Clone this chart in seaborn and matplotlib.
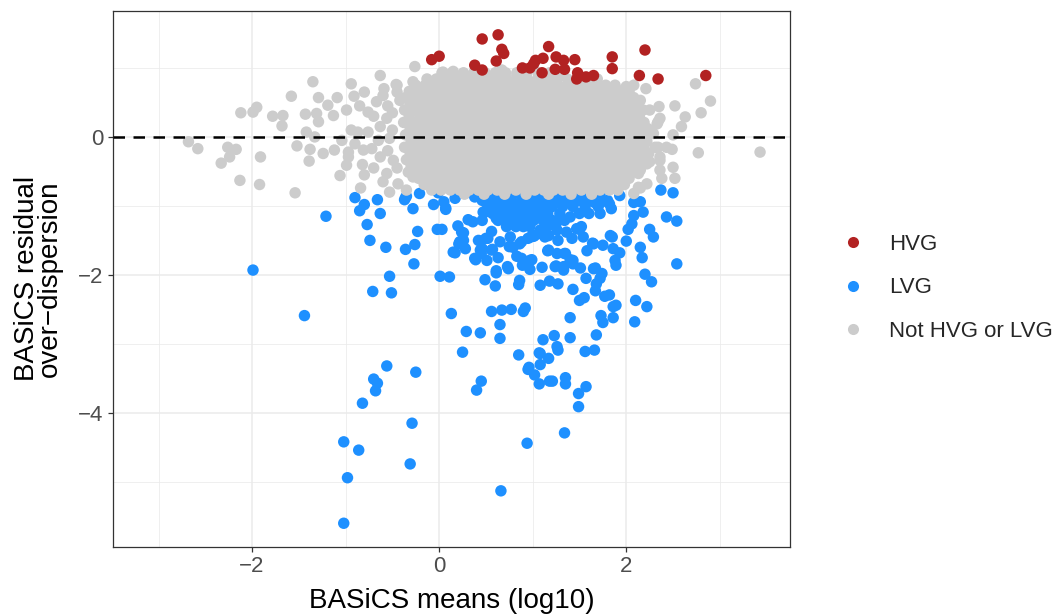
import matplotlib
matplotlib.use("Agg")
import matplotlib.pyplot as plt
from matplotlib.lines import Line2D
from matplotlib.ticker import MultipleLocator
import pandas as pd
import seaborn as sns

# ---------------------------------------------------------------- data
categories = ["HVG", "LVG", "Not HVG or LVG"]
colours = {"HVG": "#B22222", "LVG": "#1E90FF", "Not HVG or LVG": "#CCCCCC"}

# highly variable genes: (mean log10, residual over-dispersion)
hvg_points = [
    (-0.08, 1.12), (0.00, 1.17), (0.46, 1.42), (0.63, 1.48), (0.67, 1.27),
    (0.69, 1.21), (0.38, 1.04), (0.46, 0.97), (0.61, 1.10), (0.89, 1.00),
    (0.97, 1.00), (1.03, 1.11), (1.11, 1.14), (1.17, 1.31), (1.10, 0.93),
    (1.25, 1.16), (1.24, 0.98), (1.33, 1.11), (1.34, 0.98), (1.45, 1.12),
    (1.48, 0.93), (1.47, 0.84), (1.57, 0.87), (1.65, 0.89), (1.85, 1.16),
    (1.85, 0.99), (2.14, 0.89), (2.20, 1.26), (2.34, 0.84), (2.85, 0.89),
    (1.01, 1.06),
]

# lowly variable genes: individually placed points
lvg_points = [
    (-1.21, -1.15), (-0.90, -0.88), (-0.80, -0.98), (-0.85, -1.07), (-0.66, -0.91),
    (-0.63, -1.11), (-0.77, -1.27), (-0.74, -1.50), (-0.57, -1.60), (-0.36, -0.88),
    (-0.28, -1.04), (-0.23, -1.37), (-0.26, -1.56), (-0.36, -1.63), (-0.27, -1.84),
    (-0.53, -2.02), (-0.71, -2.24), (-0.51, -2.26), (-1.44, -2.59), (-1.99, -1.93),
    (-0.56, -3.32), (-0.25, -3.41), (-0.70, -3.51), (-0.66, -3.57), (-0.68, -3.68),
    (-0.82, -3.86), (-0.29, -4.15), (-1.02, -4.42), (-0.86, -4.54), (-0.31, -4.74),
    (-0.98, -4.94), (-1.02, -5.60), (-0.37, -0.91), (-0.35, -0.86), (-0.21, -0.82),
    (-0.06, -0.98), (-0.01, -0.81), (0.07, -1.03), (-0.02, -1.34), (0.03, -1.34),
    (0.17, -1.68), (0.20, -1.29), (0.26, -1.39), (0.22, -1.52), (0.28, -1.62),
    (0.01, -2.02), (0.11, -2.03), (0.13, -2.56), (0.29, -2.82), (0.44, -2.84),
    (0.25, -3.12), (0.05, -0.94), (0.07, -1.05), (0.17, -0.89), (0.29, -0.81),
    (0.38, -0.87), (0.54, -0.82),
    (0.39, -1.78), (0.45, -1.69), (0.44, -1.51), (0.52, -1.47), (0.46, -1.62),
    (0.57, -1.63), (0.63, -1.75), (0.65, -1.52), (0.76, -1.45), (0.75, -1.59),
    (0.83, -1.73), (0.73, -1.88), (0.49, -2.07), (0.60, -2.16), (0.61, -1.97),
    (0.85, -2.14), (0.56, -2.53), (0.67, -2.51), (0.77, -2.50), (0.90, -2.53),
    (0.92, -2.48), (0.65, -2.72), (0.65, -2.92), (0.85, -3.16), (0.89, -1.86),
    (0.97, -1.92), (0.99, -1.78), (0.98, -1.45), (1.10, -1.89), (1.08, -2.15),
    (1.18, -2.09), (1.27, -2.13), (1.16, -1.65), (1.25, -1.87), (1.33, -1.93),
    (1.35, -1.69), (1.40, -1.78), (1.43, -1.84), (1.51, -1.90), (1.58, -1.65),
    (1.64, -1.54), (1.57, -2.05), (1.67, -1.90), (1.72, -2.05), (1.68, -2.13),
    (1.67, -2.23), (1.43, -2.21), (1.50, -2.37), (1.55, -2.33), (1.40, -2.62),
    (1.40, -2.91), (1.23, -2.88), (1.26, -3.04), (1.11, -2.94), (1.07, -3.13),
    (1.17, -3.21), (1.08, -3.30), (0.96, -3.34), (1.56, -3.11), (1.66, -3.09),
    (1.68, -2.87), (1.73, -2.59), (1.75, -2.69), (1.86, -2.62), (1.86, -2.46),
    (1.89, -2.44), (1.77, -2.31), (1.82, -2.29), (2.10, -2.37), (2.22, -2.46),
    (2.09, -2.68), (2.20, -1.99), (2.27, -2.10), (2.17, -1.75), (2.15, -1.60),
    (1.86, -1.62), (1.93, -1.68), (1.88, -1.79), (1.89, -1.86), (1.85, -1.45),
    (1.83, -1.43), (2.00, -1.51), (2.43, -1.16), (2.54, -1.22), (2.54, -1.84),
    (2.25, -1.34), (2.29, -1.45), (2.37, -0.77), (2.50, -0.81), (1.93, -0.85),
    (2.08, -0.95), (2.15, -0.94), (2.08, -1.14), (2.18, -1.09), (2.06, -1.26),
    (2.02, -1.34), (1.84, -1.04), (1.82, -0.97), (1.76, -0.93), (1.66, -0.95),
    (1.65, -0.76), (1.52, -1.30), (1.50, -1.34), (1.40, -1.16), (1.50, -1.11),
    (1.26, -1.23), (1.17, -1.28), (1.08, -1.40), (1.13, -1.45), (1.01, -1.44),
    (0.86, -1.55), (0.79, -1.60), (0.56, -1.37), (0.50, -1.47), (0.36, -1.23),
    (0.47, -1.09), (0.31, -1.20), (0.49, -1.09), (0.46, -1.21), (0.61, -1.18),
    (0.70, -1.16), (0.24, -1.38), (0.26, -1.50), (0.21, -1.55), (0.15, -1.67),
    (0.42, -1.50), (0.44, -1.64), (0.56, -1.64), (0.88, -1.52), (0.95, -1.47),
    (1.02, -1.43), (1.08, -1.35), (1.17, -1.43), (1.26, -1.35), (1.36, -1.38),
    (1.47, -1.33), (1.54, -1.45), (1.27, -1.50), (1.42, -1.47), (1.65, -1.55),
    (1.75, -1.57), (1.17, -1.64), (1.26, -1.69), (1.34, -1.69), (1.43, -1.79),
    (1.65, -1.91), (1.74, -1.98), (1.33, -1.88), (1.24, -1.88), (0.97, -1.79),
    (0.88, -1.76), (0.51, -1.79), (0.38, -1.76), (0.61, -1.94), (0.74, -1.91),
    (0.86, -2.08),
    (0.45, -3.54), (0.40, -3.67), (0.95, -3.37), (1.02, -3.45), (1.08, -3.14),
    (1.07, -3.58), (1.18, -3.54), (1.21, -3.54), (1.35, -3.49), (1.35, -3.58),
    (1.49, -3.72), (1.57, -3.62), (1.49, -3.91), (1.27, -3.09), (1.34, -4.29),
    (0.94, -4.44), (0.66, -5.13),
]

# lowly variable genes: the packed band just under the main cloud
lvg_band_y = [-0.82, -0.92, -1.01, -1.11, -1.21, -1.30]
lvg_band_x = [
    [0.55, 0.65, 0.75, 0.85, 0.95, 1.05, 1.15, 1.25, 1.35, 1.45, 1.55, 1.72],
    [0.46, 0.56, 0.66, 0.77, 0.88, 0.98, 1.08, 1.18, 1.28, 1.38, 1.50, 1.60, 1.80],
    [0.52, 0.62, 0.72, 0.82, 0.92, 1.01, 1.11, 1.21, 1.32, 1.43, 1.56, 1.70],
    [0.57, 0.67, 0.77, 0.87, 0.97, 1.06, 1.16, 1.29, 1.60, 1.72],
    [0.63, 0.73, 0.83, 0.92, 1.01, 1.11, 1.21, 1.34],
    [0.72, 0.82, 0.90, 0.97, 1.15],
]

# neither: outlying points around the main cloud
other_points = [
    (-2.68, -0.07), (-2.58, -0.17), (-2.26, -0.15), (-2.17, -0.18), (-2.33, -0.38),
    (-2.24, -0.29), (-2.13, -0.63), (-1.92, -0.69), (-1.91, -0.29), (-1.54, -0.81),
    (-2.12, 0.35), (-1.99, 0.36), (-1.95, 0.43), (-1.78, 0.30), (-1.67, 0.31),
    (-1.68, 0.16), (-1.58, 0.59), (-1.35, 0.80), (-1.29, 0.57), (-1.19, 0.46),
    (-1.09, 0.57), (-0.94, 0.77), (-0.91, 0.59), (-1.43, 0.33), (-1.29, 0.22),
    (-1.42, 0.07), (-1.52, -0.13), (-1.39, -0.35), (-1.24, -0.24), (-1.12, -0.19),
    (-1.06, -0.56), (-0.84, -0.74), (-0.82, -0.40), (-0.99, -0.41), (-0.97, -0.22),
    (-1.04, -0.05), (-0.87, 0.07), (-0.63, 0.89), (-0.26, 1.02), (-0.45, 0.75),
    (-0.28, 0.80), (-0.80, 0.65), (-1.31, 0.34), (-1.38, -0.18), (-1.33, 0.00),
    (-0.59, 0.70), (-0.46, 0.76), (-0.97, -0.29), (-1.13, 0.31), (-0.99, 0.39),
    (-0.94, 0.10), (-0.76, 0.07), (-0.81, -0.19), (-0.72, -0.17), (-0.56, -0.53),
    (-0.63, -0.29), (-0.67, 0.51), (-0.76, 0.36), (-0.56, 0.27), (-0.63, 0.15),
    (-0.53, -0.02), (-0.49, -0.34), (-0.44, -0.68), (-0.35, -0.77), (-0.53, -0.80),
    (-0.28, -0.58), (-0.42, 0.53), (-0.85, 0.45), (-0.70, 0.30), (-0.60, 0.60),
    (-0.55, 0.45), (-0.50, 0.10), (-0.65, -0.05), (-0.55, -0.20), (-0.70, -0.45),
    (-0.60, -0.65), (-0.45, -0.45), (-0.90, -0.10), (-0.80, -0.55), (-0.50, 0.35),
    (-0.45, 0.65),
    (2.74, 0.77), (2.90, 0.52), (2.80, 0.35), (2.63, 0.29), (2.59, 0.15),
    (2.52, 0.45), (2.35, 0.44), (2.21, 0.70), (2.50, 0.03), (2.49, -0.18),
    (2.77, -0.23), (2.50, -0.44), (2.52, -0.60), (2.36, -0.48), (2.13, -0.51),
    (2.22, -0.68), (2.13, -0.73), (2.38, -0.60), (2.34, 0.22), (2.36, -0.34),
    (2.34, -0.15), (2.08, 0.75), (2.00, 0.73), (3.43, -0.22), (2.22, -0.39),
    (2.15, -0.74), (1.72, 0.72), (1.90, 0.68), (2.15, 0.53), (2.25, 0.39),
    (2.36, 0.27), (2.43, -0.15), (2.36, -0.29), (2.25, -0.36), (2.15, -0.48),
    (1.97, -0.65), (2.08, -0.82), (2.13, -0.53), (2.29, 0.05), (2.33, 0.19),
    (2.31, -0.15),
    (0.04, 0.94), (0.15, 0.95), (0.67, 0.97), (0.83, 0.89),
]

# neither: the dense central cloud, one list of means per residual row
other_band_y = [0.93, 0.84, 0.75, 0.66, 0.57, 0.48, 0.39, 0.30, 0.21, 0.12, 0.03,
                -0.06, -0.15, -0.24, -0.33, -0.42, -0.51, -0.60, -0.69, -0.77, -0.83]
other_band_x = [
    [0.03, 0.14, 0.26, 0.37, 0.49, 0.60, 0.71, 0.83, 0.94, 1.06, 1.18, 1.30],
    [-0.13, -0.03, 0.08, 0.18, 0.29, 0.40, 0.51, 0.62, 0.72, 0.83, 0.94, 1.05, 1.15,
     1.26, 1.37, 1.48, 1.59, 1.69],
    [-0.25, -0.15, -0.05, 0.05, 0.15, 0.25, 0.35, 0.45, 0.56, 0.66, 0.76, 0.86, 0.96,
     1.06, 1.17, 1.27, 1.37, 1.47, 1.57, 1.67, 1.78, 1.88],
    [-0.32, -0.21, -0.10, 0.00, 0.10, 0.20, 0.30, 0.41, 0.51, 0.61, 0.71, 0.81, 0.91,
     1.02, 1.12, 1.22, 1.32, 1.42, 1.52, 1.62, 1.73, 1.83, 1.93, 2.03],
    [-0.36, -0.26, -0.16, -0.05, 0.05, 0.15, 0.25, 0.35, 0.46, 0.56, 0.66, 0.76, 0.86,
     0.97, 1.07, 1.17, 1.27, 1.37, 1.47, 1.57, 1.68, 1.78, 1.88, 1.98, 2.08],
    [-0.31, -0.21, -0.11, 0.00, 0.10, 0.20, 0.31, 0.41, 0.51, 0.61, 0.71, 0.82, 0.92,
     1.02, 1.12, 1.22, 1.32, 1.43, 1.53, 1.63, 1.73, 1.83, 1.93, 2.03, 2.12],
    [-0.37, -0.26, -0.15, -0.06, 0.05, 0.16, 0.26, 0.36, 0.46, 0.56, 0.67, 0.77, 0.87,
     0.97, 1.07, 1.18, 1.28, 1.38, 1.48, 1.58, 1.68, 1.78, 1.88, 1.98, 2.08, 2.18],
    [-0.32, -0.20, -0.10, 0.01, 0.11, 0.21, 0.31, 0.42, 0.52, 0.62, 0.72, 0.82, 0.92,
     1.03, 1.13, 1.23, 1.33, 1.43, 1.53, 1.63, 1.73, 1.84, 1.94, 2.04, 2.14],
    [-0.38, -0.27, -0.16, -0.05, 0.06, 0.16, 0.26, 0.36, 0.47, 0.57, 0.67, 0.77, 0.87,
     0.98, 1.08, 1.18, 1.28, 1.38, 1.49, 1.59, 1.69, 1.79, 1.89, 1.99, 2.09, 2.19],
    [-0.31, -0.21, -0.10, 0.00, 0.11, 0.21, 0.31, 0.41, 0.51, 0.62, 0.72, 0.82, 0.92,
     1.02, 1.13, 1.23, 1.33, 1.43, 1.53, 1.64, 1.74, 1.84, 1.94, 2.04, 2.14, 2.23],
    [-0.36, -0.25, -0.15, -0.05, 0.05, 0.16, 0.26, 0.36, 0.46, 0.57, 0.67, 0.77, 0.87,
     0.97, 1.08, 1.18, 1.28, 1.38, 1.48, 1.59, 1.69, 1.79, 1.89, 1.99, 2.09, 2.18],
    [-0.30, -0.20, -0.10, 0.01, 0.11, 0.21, 0.31, 0.41, 0.52, 0.62, 0.72, 0.82, 0.92,
     1.03, 1.13, 1.23, 1.33, 1.43, 1.54, 1.64, 1.74, 1.84, 1.94, 2.04, 2.13, 2.22],
    [-0.37, -0.26, -0.15, -0.05, 0.06, 0.16, 0.26, 0.36, 0.47, 0.57, 0.67, 0.77, 0.87,
     0.98, 1.08, 1.18, 1.28, 1.38, 1.49, 1.59, 1.69, 1.79, 1.89, 1.99, 2.09, 2.19],
    [-0.31, -0.20, -0.10, 0.00, 0.10, 0.21, 0.31, 0.41, 0.51, 0.61, 0.72, 0.82, 0.92,
     1.02, 1.12, 1.23, 1.33, 1.43, 1.53, 1.63, 1.74, 1.84, 1.94, 2.04, 2.14, 2.24],
    [-0.35, -0.25, -0.15, -0.04, 0.06, 0.16, 0.26, 0.37, 0.47, 0.57, 0.67, 0.77, 0.88,
     0.98, 1.08, 1.18, 1.28, 1.39, 1.49, 1.59, 1.69, 1.79, 1.89, 1.99, 2.08, 2.17],
    [-0.30, -0.20, -0.10, 0.00, 0.11, 0.21, 0.31, 0.41, 0.51, 0.62, 0.72, 0.82, 0.92,
     1.02, 1.13, 1.23, 1.33, 1.43, 1.53, 1.64, 1.74, 1.84, 1.94, 2.04, 2.12],
    [-0.33, -0.23, -0.14, -0.05, 0.05, 0.16, 0.26, 0.36, 0.46, 0.57, 0.67, 0.77, 0.87,
     0.97, 1.08, 1.18, 1.28, 1.38, 1.48, 1.59, 1.69, 1.79, 1.89, 1.99, 2.07],
    [-0.22, -0.11, 0.00, 0.10, 0.20, 0.31, 0.41, 0.51, 0.61, 0.71, 0.82, 0.92, 1.02,
     1.12, 1.22, 1.33, 1.43, 1.53, 1.63, 1.73, 1.84, 1.94, 2.03],
    [-0.16, -0.05, 0.05, 0.16, 0.26, 0.36, 0.46, 0.57, 0.67, 0.77, 0.87, 0.97, 1.08,
     1.18, 1.28, 1.38, 1.48, 1.59, 1.69, 1.79, 1.89, 1.98],
    [-0.08, 0.02, 0.12, 0.22, 0.32, 0.42, 0.52, 0.62, 0.72, 0.82, 0.92, 1.02, 1.12,
     1.22, 1.32, 1.42, 1.52, 1.62, 1.72, 1.82, 1.91],
    [0.27, 0.48, 0.70, 0.93, 1.17, 1.41, 1.63],
]

x_ticks = [-2, 0, 2]
y_ticks = [-4, -2, 0]
x_label = "BASiCS means (log10)"
y_label = "BASiCS residual\nover\u2212dispersion"


# ---------------------------------------------------------------- frame
def points_to_frame(points, group):
    return pd.DataFrame({"mean": [p[0] for p in points],
                         "resid": [p[1] for p in points],
                         "group": group})


def rows_to_frame(row_y, row_x, group):
    pts = [(x, y) for y, xrow in zip(row_y, row_x) for x in xrow]
    return points_to_frame(pts, group)


# drawing order: LVG underneath, the grey cloud above it, HVG on top
df = pd.concat([
    points_to_frame(lvg_points, "LVG"),
    rows_to_frame(lvg_band_y, lvg_band_x, "LVG"),
    points_to_frame(other_points, "Not HVG or LVG"),
    rows_to_frame(other_band_y, other_band_x, "Not HVG or LVG"),
    points_to_frame(hvg_points, "HVG"),
], ignore_index=True)

# ---------------------------------------------------------------- plot
sns.set_theme(style="white")
plt.rcParams["font.family"] = ["Liberation Sans", "DejaVu Sans"]

fig = plt.figure(figsize=(10.55, 6.14), dpi=100)
ax = fig.add_axes([0.1068, 0.1096, 0.6420, 0.8730])

sns.scatterplot(data=df, x="mean", y="resid", hue="group",
                hue_order=categories, palette=colours,
                s=68, linewidth=0, alpha=1, legend=False, ax=ax, zorder=2)

ax.axhline(0, color="black", lw=1.8, ls=(0, (4.6, 3.4)), zorder=3)

ax.set_xlim(-3.49, 3.75)
ax.set_ylim(-5.94, 1.83)
ax.xaxis.set_major_locator(MultipleLocator(2))
ax.xaxis.set_minor_locator(MultipleLocator(1))
ax.yaxis.set_major_locator(MultipleLocator(2))
ax.yaxis.set_minor_locator(MultipleLocator(1))
ax.set_xticks(x_ticks)
ax.set_yticks(y_ticks)

ax.set_axisbelow(True)
ax.grid(which="major", color="#EBEBEB", lw=1.1)
ax.grid(which="minor", color="#EBEBEB", lw=0.55)
for sp in ax.spines.values():
    sp.set_color("#333333")
    sp.set_linewidth(0.9)

ax.tick_params(which="major", direction="out", length=3.6, width=0.9,
               color="#333333", labelsize=16, labelcolor="#4D4D4D", pad=3,
               bottom=True, left=True)
ax.tick_params(which="minor", length=0)

ax.set_xlabel(x_label, fontsize=20, color="black", labelpad=8)
ax.set_ylabel(y_label, fontsize=20, color="black", labelpad=11, linespacing=0.85)

handles = [Line2D([], [], ls="none", marker="o", markersize=8,
                  markerfacecolor=colours[c], markeredgewidth=0)
           for c in categories]
fig.legend(handles, categories, loc="center left",
           bbox_to_anchor=(0.7877, 0.531), bbox_transform=fig.transFigure,
           frameon=False, fontsize=16, handlelength=2.0, handletextpad=0.6,
           labelspacing=1.02, borderpad=0, borderaxespad=0)

fig.savefig("out.png", dpi=100)
